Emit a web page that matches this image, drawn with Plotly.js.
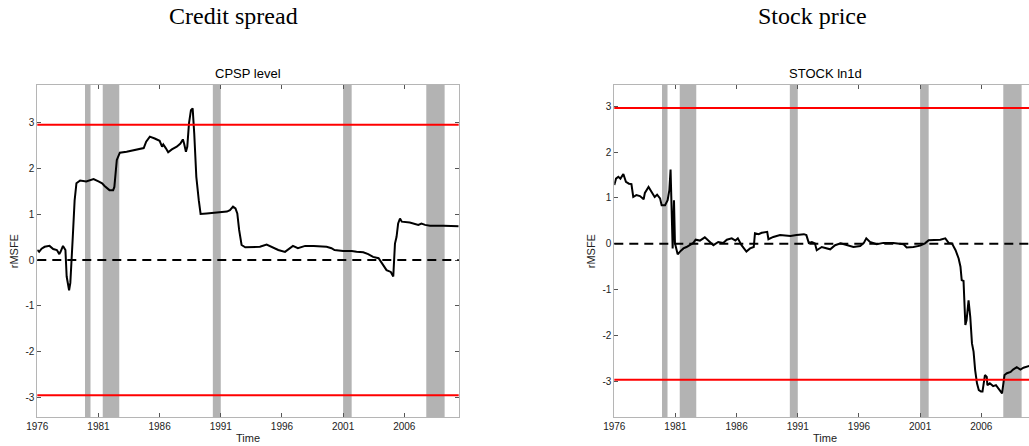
<!DOCTYPE html>
<html>
<head>
<meta charset="utf-8">
<script src="https://cdn.plot.ly/plotly-3.0.1.min.js"></script>
<style>
html,body{margin:0;padding:0;overflow:hidden;background:#fff;}
#chart{width:1040px;height:446px;}
</style>
</head>
<body>
<div id="chart"></div>
<script>
// ---------- data ----------
const cpspYears = [1976.0,1976.15,1976.35,1976.6,1977.0,1977.3,1977.6,1977.8,1977.9,1978.1,1978.3,1978.4,1978.6,1978.7,1978.9,1979.05,1979.2,1979.5,1980.0,1980.3,1980.6,1981.0,1981.3,1981.5,1981.9,1982.2,1982.3,1982.5,1982.75,1983.3,1984.1,1984.7,1984.9,1985.2,1985.6,1986.0,1986.2,1986.3,1986.5,1986.7,1987.0,1987.4,1987.7,1987.9,1988.0,1988.15,1988.26,1988.4,1988.56,1988.7,1988.83,1989.0,1989.2,1989.35,1989.85,1990.7,1991.5,1991.75,1992.0,1992.2,1992.35,1992.5,1992.7,1993.0,1993.65,1994.2,1994.75,1995.15,1995.7,1996.25,1996.6,1996.9,1997.3,1997.9,1998.6,1999.65,2000.05,2000.3,2001.0,2001.7,2002.1,2002.65,2003.05,2003.45,2003.9,2004.2,2004.55,2004.9,2005.1,2005.24,2005.37,2005.5,2005.65,2005.8,2006.45,2007.15,2007.4,2007.7,2008.1,2009.2,2010.45];
const cpspValues = [0.22,0.18,0.25,0.29,0.31,0.24,0.22,0.13,0.18,0.31,0.22,-0.36,-0.66,-0.5,0.5,1.3,1.68,1.74,1.72,1.74,1.77,1.72,1.68,1.62,1.53,1.53,1.6,2.19,2.35,2.37,2.41,2.45,2.59,2.70,2.66,2.61,2.48,2.53,2.45,2.36,2.42,2.48,2.55,2.64,2.55,2.37,2.48,2.99,3.28,3.32,2.77,1.82,1.31,1.01,1.02,1.04,1.06,1.09,1.17,1.13,1.02,0.66,0.33,0.28,0.28,0.29,0.34,0.29,0.22,0.18,0.24,0.31,0.26,0.31,0.31,0.29,0.26,0.22,0.20,0.20,0.18,0.17,0.13,0.07,0.04,-0.07,-0.22,-0.26,-0.36,0.36,0.51,0.80,0.91,0.84,0.82,0.77,0.80,0.77,0.75,0.75,0.74];

const stockYears = [1976.0,1976.14,1976.33,1976.5,1976.74,1976.95,1977.2,1977.4,1977.55,1977.8,1978.1,1978.4,1978.5,1978.8,1979.05,1979.3,1979.5,1979.74,1979.87,1980.15,1980.36,1980.5,1980.6,1980.7,1980.77,1980.88,1980.96,1981.1,1981.18,1981.37,1981.65,1981.9,1982.2,1982.46,1982.65,1983.0,1983.4,1983.8,1984.1,1984.5,1984.9,1985.2,1985.6,1985.9,1986.1,1986.4,1986.8,1987.1,1987.4,1987.5,1987.8,1988.05,1988.5,1988.6,1989.0,1989.55,1990.4,1990.9,1991.5,1991.7,1991.9,1992.15,1992.4,1992.55,1992.96,1993.65,1994.05,1994.5,1995.0,1995.55,1996.1,1996.4,1996.6,1996.9,1997.45,1998.0,1998.8,1999.65,1999.9,2000.45,2001.0,2001.4,2001.7,2002.1,2002.65,2003.06,2003.33,2003.6,2003.9,2004.15,2004.3,2004.4,2004.55,2004.7,2004.8,2004.96,2005.1,2005.24,2005.37,2005.5,2005.65,2005.8,2005.98,2006.1,2006.25,2006.3,2006.45,2006.5,2006.7,2006.97,2007.2,2007.5,2007.7,2007.9,2008.1,2008.4,2008.6,2008.9,2009.2,2009.45,2009.7,2009.9,2010.45];
const stockValues = [1.28,1.42,1.46,1.42,1.52,1.35,1.31,1.30,1.02,1.06,1.04,0.97,1.11,1.24,1.13,1.02,1.07,0.99,0.84,0.84,0.95,1.17,1.62,0.59,-0.10,0.95,0.01,-0.14,-0.23,-0.17,-0.10,-0.07,-0.03,0.02,0.09,0.07,0.14,0.04,-0.03,0.04,0.02,0.09,0.12,0.07,0.12,-0.03,-0.17,-0.10,-0.07,0.23,0.21,0.24,0.26,0.10,0.15,0.19,0.17,0.19,0.21,0.19,0.02,0.04,0.01,-0.14,-0.07,-0.12,-0.03,0.01,-0.03,-0.07,-0.05,0.02,0.12,0.04,-0.01,0.02,0.02,-0.01,-0.08,-0.07,-0.04,0.01,0.08,0.09,0.09,0.12,0.02,0.01,-0.14,-0.32,-0.50,-0.79,-0.81,-1.77,-1.66,-1.23,-1.59,-2.17,-2.35,-2.75,-3.04,-3.19,-3.22,-3.22,-2.97,-2.86,-2.90,-3.08,-3.04,-3.10,-3.08,-3.19,-3.26,-2.86,-2.82,-2.79,-2.74,-2.69,-2.74,-2.70,-2.68,-2.67,-2.62];

// recession periods (start, end)
const recessionStart = [1979.9, 1981.35, 1990.35, 2001.0, 2007.8];
const recessionEnd   = [1980.35, 1982.7, 1991.0, 2001.7, 2009.3];

const criticalValue = 2.96;
const xTickVals = [1976, 1981, 1986, 1991, 1996, 2001, 2006];
const xTickText = ['1976','1981','1986','1991','1996','2001','2006'];
const yTickVals = [-3, -2, -1, 0, 1, 2, 3];
const yTickText = ['-3','-2','-1','0','1','2','3'];
const panelTitles = ['CPSP level', 'STOCK ln1d'];
const mainTitles = ['Credit spread', 'Stock price'];

// ---------- layout geometry ----------
const W = 1040, H = 446;
const px = v => v / W, py = v => 1 - v / H;
const xRange = [1976, 2010.45];

const traces = [];
const shapes = [];
function addPanel(xs, ys, xa, ya) {
  traces.push({x: xs, y: ys, xaxis: xa, yaxis: ya, type: 'scatter', mode: 'lines',
    line: {color: '#000', width: 2}, hoverinfo: 'x+y', showlegend: false});
  const xr = xa === 'x' ? 'x' : 'x2';
  const yr = ya === 'y' ? 'y' : 'y2';
  for (let i = 0; i < recessionStart.length; i++) {
    shapes.push({type: 'rect', xref: xr, yref: yr + ' domain', x0: recessionStart[i], x1: recessionEnd[i],
      y0: 0, y1: 1, fillcolor: '#b3b3b3', line: {width: 0}, layer: 'below'});
  }
  [criticalValue, -criticalValue].forEach(v => {
    shapes.push({type: 'line', xref: xr + ' domain', yref: yr, x0: 0, x1: 1, y0: v, y1: v,
      line: {color: '#ff0000', width: 2}, layer: 'above'});
  });
  shapes.push({type: 'line', xref: xr + ' domain', yref: yr, x0: 0, x1: 1, y0: 0, y1: 0,
    line: {color: '#000', width: 2, dash: '9px,6px'}, layer: 'above'});
}
addPanel(cpspYears, cpspValues, 'x', 'y');
addPanel(stockYears, stockValues, 'x2', 'y2');

const tickFont = {family: 'Liberation Sans, Arial, sans-serif', size: 10, color: '#222'};
function xAxis(dom, anchor) {
  return {domain: dom, anchor: anchor, range: xRange, tickvals: xTickVals, ticktext: xTickText,
    ticks: 'inside', ticklen: 4, tickcolor: '#555', showline: true, linecolor: '#b5b5b5', linewidth: 1,
    mirror: 'ticks', showgrid: false, zeroline: false, tickfont: tickFont,
    title: {text: 'Time', font: {family: 'Liberation Sans, Arial, sans-serif', size: 11, color: '#222'}, standoff: 3}};
}
function yAxis(dom, anchor, rng) {
  return {domain: dom, anchor: anchor, range: rng, tickvals: yTickVals, ticktext: yTickText,
    ticks: 'inside', ticklen: 4, tickcolor: '#555', showline: true, linecolor: '#b5b5b5', linewidth: 1,
    mirror: 'ticks', showgrid: false, zeroline: false, tickfont: tickFont,
    title: {text: 'rMSFE', font: {family: 'Liberation Sans, Arial, sans-serif', size: 11, color: '#222'}, standoff: 4}};
}
const yDom = [py(417.3), py(85)];
const layout = {
  width: W, height: H,
  margin: {l: 0, r: 0, t: 0, b: 0},
  paper_bgcolor: '#fff', plot_bgcolor: '#fff',
  showlegend: false,
  xaxis: xAxis([px(37.3), px(458.7)], 'y'),
  yaxis: yAxis(yDom, 'x', [-3.44, 3.83]),
  xaxis2: xAxis([px(614.3), px(1035.7)], 'y2'),
  yaxis2: yAxis(yDom, 'x2', [-3.78, 3.46]),
  shapes: shapes,
  annotations: [
    {text: mainTitles[0], xref: 'paper', yref: 'paper', x: px(233), y: py(16), showarrow: false,
      xanchor: 'center', yanchor: 'middle', font: {family: 'Liberation Serif, Times New Roman, serif', size: 24, color: '#000'}},
    {text: mainTitles[1], xref: 'paper', yref: 'paper', x: px(812), y: py(16), showarrow: false,
      xanchor: 'center', yanchor: 'middle', font: {family: 'Liberation Serif, Times New Roman, serif', size: 24, color: '#000'}},
    {text: panelTitles[0], xref: 'paper', yref: 'paper', x: px(248), y: py(73), showarrow: false,
      xanchor: 'center', yanchor: 'middle', font: {family: 'Liberation Sans, Arial, sans-serif', size: 13, color: '#000'}},
    {text: panelTitles[1], xref: 'paper', yref: 'paper', x: px(825.7), y: py(73), showarrow: false,
      xanchor: 'center', yanchor: 'middle', font: {family: 'Liberation Sans, Arial, sans-serif', size: 13, color: '#000'}}
  ]
};
Plotly.newPlot('chart', traces, layout, {staticPlot: true, displayModeBar: false});
</script>
</body>
</html>
